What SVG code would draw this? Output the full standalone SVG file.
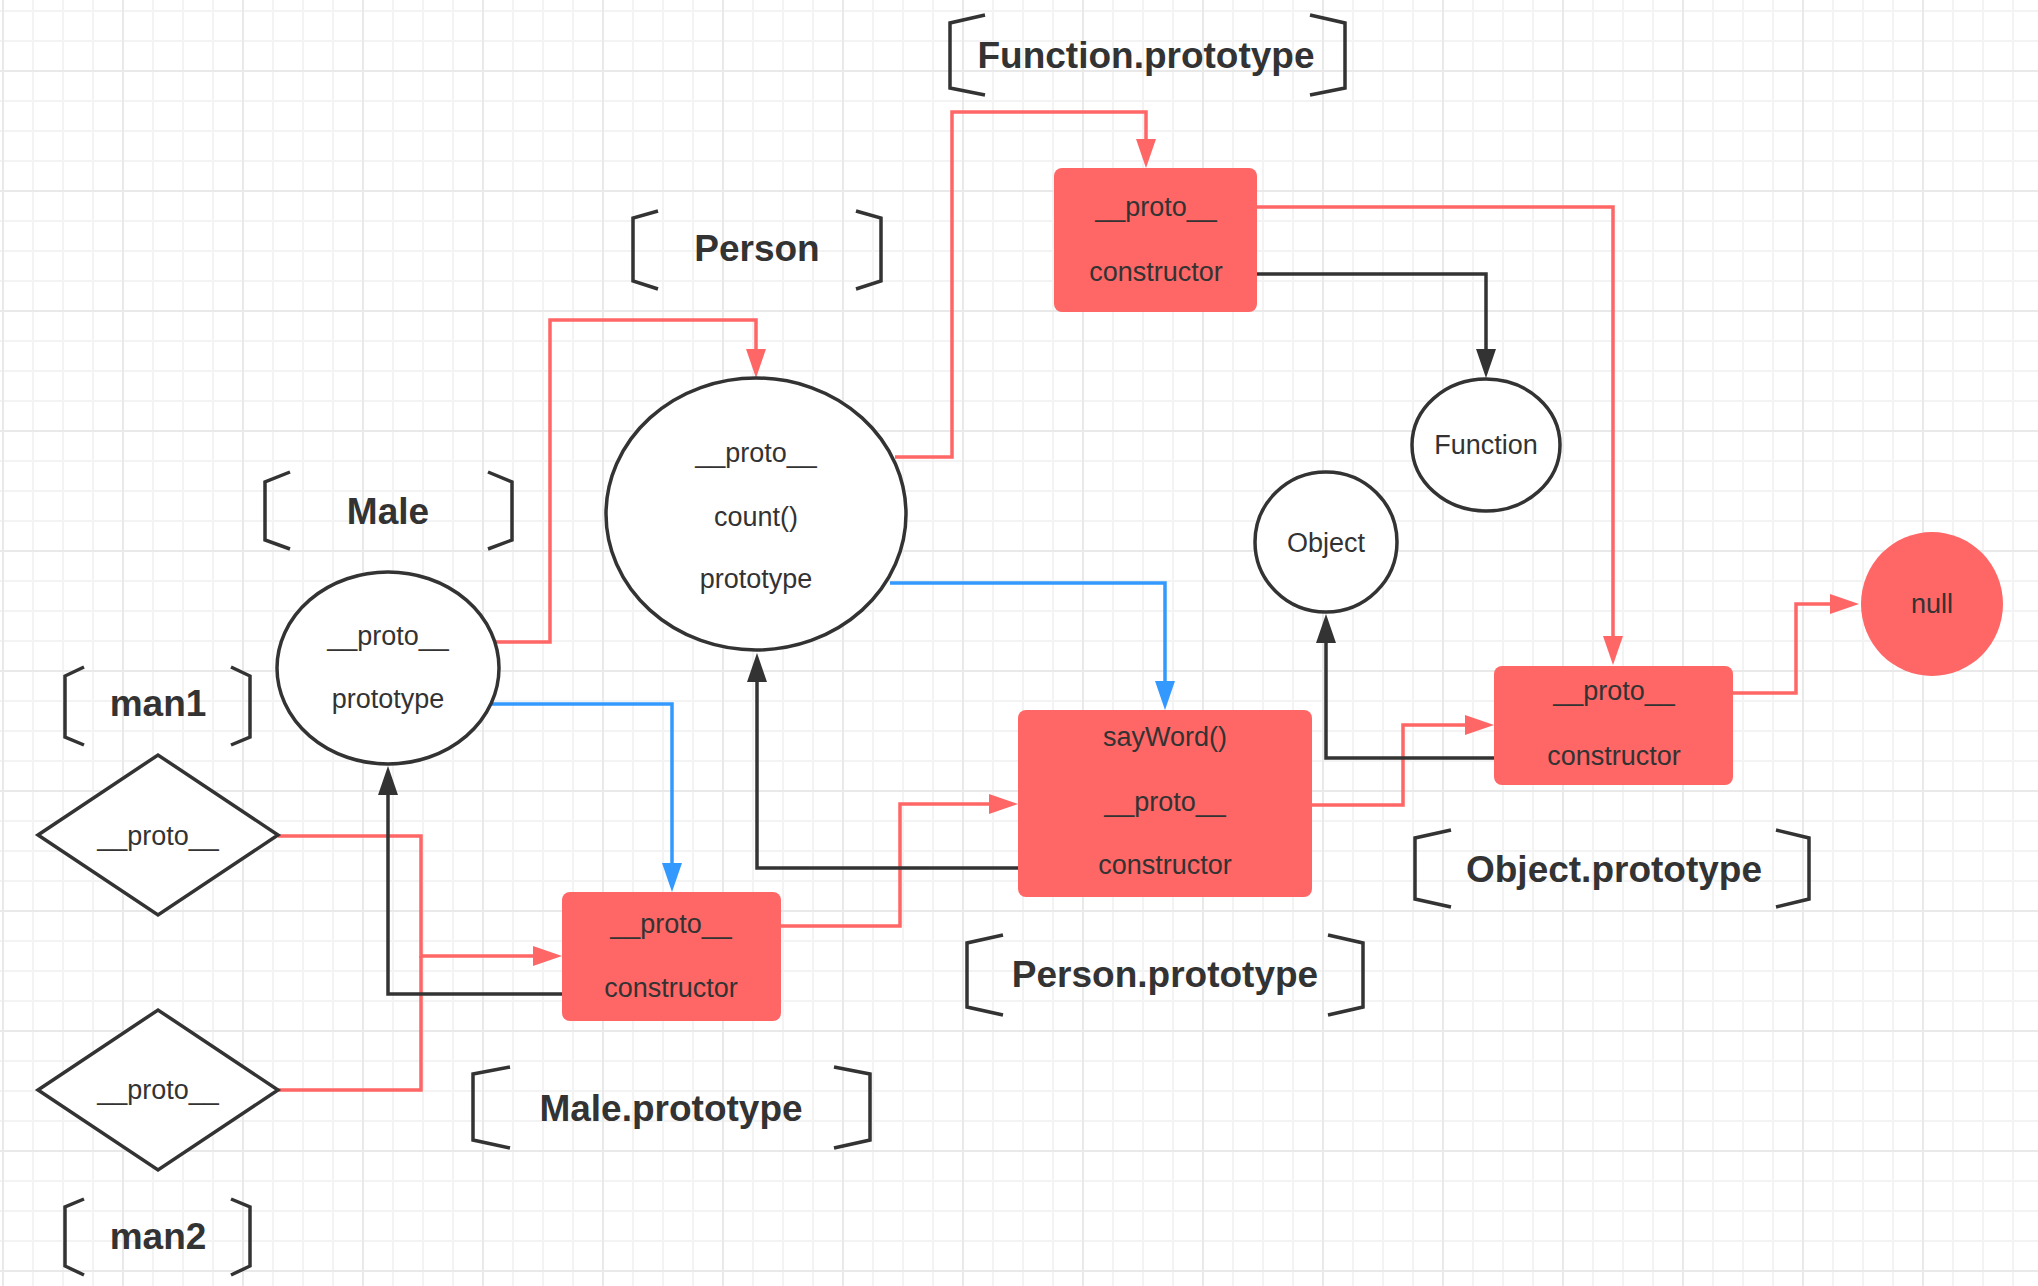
<svg xmlns="http://www.w3.org/2000/svg" width="2038" height="1286" viewBox="0 0 2038 1286">
<defs>
<pattern id="gMinor" patternUnits="userSpaceOnUse" x="2" y="10" width="30" height="30">
<rect x="0" y="0" width="30" height="2" fill="#f3f3f3"/>
<rect x="0" y="0" width="2" height="30" fill="#f3f3f3"/>
</pattern>
<pattern id="gMajor" patternUnits="userSpaceOnUse" x="2" y="70" width="120" height="120">
<rect x="0" y="0" width="120" height="2" fill="#e9e9e9"/>
<rect x="0" y="0" width="2" height="120" fill="#e9e9e9"/>
</pattern>
<marker id="aRed" markerUnits="userSpaceOnUse" markerWidth="30" markerHeight="20" refX="0" refY="10" orient="auto" overflow="visible">
<path d="M0,0 L29,10 L0,20 Z" fill="#ff6666"/>
</marker>
<marker id="aBlue" markerUnits="userSpaceOnUse" markerWidth="30" markerHeight="20" refX="0" refY="10" orient="auto" overflow="visible">
<path d="M0,0 L29,10 L0,20 Z" fill="#3399ff"/>
</marker>
<marker id="aBlack" markerUnits="userSpaceOnUse" markerWidth="30" markerHeight="20" refX="0" refY="10" orient="auto" overflow="visible">
<path d="M0,0 L29,10 L0,20 Z" fill="#333333"/>
</marker>
</defs>
<style>
.lbl{font-family:"Liberation Sans",Arial,sans-serif;font-weight:bold;font-size:37px;fill:#333;text-anchor:middle}
.txt{font-family:"Liberation Sans",Arial,sans-serif;font-size:27px;fill:#333;text-anchor:middle}
.brk{fill:none;stroke:#333;stroke-width:3.5;stroke-linejoin:miter}
.ell{fill:#fff;stroke:#333;stroke-width:3.5}
.box{fill:#ff6666}
.cr{fill:none;stroke:#ff6666;stroke-width:3.5}
.cb{fill:none;stroke:#3399ff;stroke-width:3.5}
.ck{fill:none;stroke:#333;stroke-width:3.5}
</style>
<rect x="0" y="0" width="2038" height="1286" fill="#fff"/>
<rect x="0" y="0" width="2038" height="1286" fill="url(#gMinor)"/>
<rect x="0" y="0" width="2038" height="1286" fill="url(#gMajor)"/>

<g id="connectors">
<path class="cr" d="M495 642 H550 V320 H756 V349" marker-end="url(#aRed)"/>
<path class="cr" d="M895 457 H952 V112 H1146 V139" marker-end="url(#aRed)"/>
<path class="cr" d="M1257 207 H1613 V636" marker-end="url(#aRed)"/>
<path class="ck" d="M1257 274 H1486 V349" marker-end="url(#aBlack)"/>
<path class="cb" d="M890 583 H1165 V681" marker-end="url(#aBlue)"/>
<path class="cb" d="M492 704 H672 V863" marker-end="url(#aBlue)"/>
<path class="cr" d="M278 1090 H421 V956"/>
<path class="cr" d="M278 836 H421 V956 H533" marker-end="url(#aRed)"/>
<path class="ck" d="M562 994 H388 V795" marker-end="url(#aBlack)"/>
<path class="cr" d="M781 926 H900 V804 H989" marker-end="url(#aRed)"/>
<path class="ck" d="M1018 868 H757 V682" marker-end="url(#aBlack)"/>
<path class="cr" d="M1311 805 H1403 V725 H1465" marker-end="url(#aRed)"/>
<path class="ck" d="M1494 758 H1326 V643" marker-end="url(#aBlack)"/>
<path class="cr" d="M1733 693 H1796 V604 H1830" marker-end="url(#aRed)"/>
</g>

<g id="function-prototype-label">
<path class="brk" d="M985 15 L950 23 V88 L985 95"/>
<path class="brk" d="M1310 15 L1345 23 V88 L1310 95"/>
<text class="lbl" x="1146" y="68">Function.prototype</text>
</g>
<g id="function-prototype">
<rect class="box" x="1054" y="168" width="203" height="144" rx="8"/>
<text class="txt" x="1156" y="216">__proto__</text>
<text class="txt" x="1156" y="281">constructor</text>
</g>

<g id="person-label">
<path class="brk" d="M658 211 L633 218 V281 L658 289"/>
<path class="brk" d="M856 211 L881 218 V281 L856 289"/>
<text class="lbl" x="757" y="261">Person</text>
</g>
<g id="person">
<ellipse class="ell" cx="756" cy="514" rx="150" ry="136"/>
<text class="txt" x="756" y="462">__proto__</text>
<text class="txt" x="756" y="526">count()</text>
<text class="txt" x="756" y="588">prototype</text>
</g>

<g id="male-label">
<path class="brk" d="M290 472 L265 482 V540 L290 549"/>
<path class="brk" d="M488 472 L512 482 V540 L488 549"/>
<text class="lbl" x="388" y="524">Male</text>
</g>
<g id="male">
<ellipse class="ell" cx="388" cy="668" rx="111" ry="96"/>
<text class="txt" x="388" y="645">__proto__</text>
<text class="txt" x="388" y="708">prototype</text>
</g>

<g id="man1-label">
<path class="brk" d="M84 667 L65 676 V737 L84 745"/>
<path class="brk" d="M231 667 L250 676 V737 L231 745"/>
<text class="lbl" x="158" y="716">man1</text>
</g>
<g id="man1">
<polygon class="ell" points="38,835 158,755 278,835 158,915"/>
<text class="txt" x="158" y="845">__proto__</text>
</g>

<g id="man2">
<polygon class="ell" points="38,1090 158,1010 278,1090 158,1170"/>
<text class="txt" x="158" y="1099">__proto__</text>
</g>
<g id="man2-label">
<path class="brk" d="M84 1199 L65 1207 V1266 L84 1275"/>
<path class="brk" d="M231 1199 L250 1207 V1266 L231 1275"/>
<text class="lbl" x="158" y="1249">man2</text>
</g>

<g id="male-prototype">
<rect class="box" x="562" y="892" width="219" height="129" rx="8"/>
<text class="txt" x="671" y="933">__proto__</text>
<text class="txt" x="671" y="997">constructor</text>
</g>
<g id="male-prototype-label">
<path class="brk" d="M510 1067 L473 1074 V1140 L510 1148"/>
<path class="brk" d="M834 1067 L870 1074 V1140 L834 1148"/>
<text class="lbl" x="671" y="1121">Male.prototype</text>
</g>

<g id="person-prototype">
<rect class="box" x="1018" y="710" width="294" height="187" rx="8"/>
<text class="txt" x="1165" y="746">sayWord()</text>
<text class="txt" x="1165" y="811">__proto__</text>
<text class="txt" x="1165" y="874">constructor</text>
</g>
<g id="person-prototype-label">
<path class="brk" d="M1003 935 L967 943 V1007 L1003 1015"/>
<path class="brk" d="M1328 935 L1363 943 V1007 L1328 1015"/>
<text class="lbl" x="1165" y="987">Person.prototype</text>
</g>

<g id="function">
<ellipse class="ell" cx="1486" cy="445" rx="74" ry="66"/>
<text class="txt" x="1486" y="454">Function</text>
</g>

<g id="object">
<ellipse class="ell" cx="1326" cy="542" rx="71" ry="70"/>
<text class="txt" x="1326" y="552">Object</text>
</g>

<g id="object-prototype">
<rect class="box" x="1494" y="666" width="239" height="119" rx="8"/>
<text class="txt" x="1614" y="700">__proto__</text>
<text class="txt" x="1614" y="765">constructor</text>
</g>
<g id="object-prototype-label">
<path class="brk" d="M1451 830 L1415 838 V899 L1451 907"/>
<path class="brk" d="M1776 830 L1809 838 V899 L1776 907"/>
<text class="lbl" x="1614" y="882">Object.prototype</text>
</g>

<g id="null">
<ellipse cx="1932" cy="604" rx="71" ry="72" fill="#ff6666"/>
<text class="txt" x="1932" y="613">null</text>
</g>
</svg>
